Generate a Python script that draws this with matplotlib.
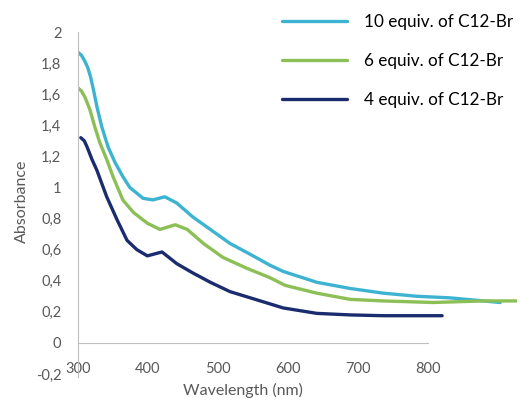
import numpy as np
import matplotlib
matplotlib.use("Agg")
import matplotlib.pyplot as plt

plt.rcParams['font.family'] = ['Lato', 'DejaVu Sans']

# absorbance spectra (wavelength nm, absorbance)
wl_10 = [300, 305, 310, 314, 318, 322, 327, 334, 343, 353, 364, 374, 393, 407, 424, 441,
         464, 489, 517, 546, 574, 593, 641, 689, 736, 784, 831, 903]
abs_10 = [1.87, 1.85, 1.81, 1.77, 1.71, 1.63, 1.52, 1.39, 1.26, 1.16, 1.07, 1.00, 0.93, 0.92,
          0.94, 0.90, 0.81, 0.73, 0.64, 0.57, 0.50, 0.46, 0.39, 0.35, 0.32, 0.30,
          0.29, 0.26]

wl_6 = [300, 305, 310, 317, 324, 331, 341, 350, 364, 379, 399, 417, 439, 456, 479,
        507, 541, 574, 596, 641, 689, 736, 807, 879, 927]
abs_6 = [1.64, 1.62, 1.58, 1.50, 1.39, 1.29, 1.18, 1.07, 0.92, 0.84, 0.77, 0.73, 0.76,
         0.73, 0.64, 0.55, 0.48, 0.42, 0.37, 0.32, 0.28, 0.27, 0.26, 0.27, 0.27]

wl_4 = [304, 309, 313, 320, 327, 341, 356, 370, 384, 399, 420, 441, 464, 489, 517,
        546, 593, 641, 689, 736, 820]
abs_4 = [1.32, 1.30, 1.26, 1.18, 1.11, 0.94, 0.79, 0.66, 0.60, 0.56, 0.585, 0.51, 0.45,
         0.39, 0.33, 0.29, 0.225, 0.19, 0.18, 0.175, 0.175]

labels = ["10 equiv. of C12-Br", "6 equiv. of C12-Br", "4 equiv. of C12-Br"]
colors = ["#3DB3D2", "#8CBF55", "#1B2C6E"]

x_ticks = [300, 400, 500, 600, 700, 800]
y_ticks = [-0.2, 0, 0.2, 0.4, 0.6, 0.8, 1, 1.2, 1.4, 1.6, 1.8, 2]

fig = plt.figure(figsize=(5.2, 4.01), dpi=100)
ax = fig.add_axes([78/520, 27/401, (517-78)/520, (374-32)/401])

for wl, a, c, lab in zip([wl_10, wl_6, wl_4], [abs_10, abs_6, abs_4], colors, labels):
    ax.plot(wl, a, color=c, lw=2.4, label=lab, solid_joinstyle='round', solid_capstyle='round')

ax.set_xlim(300, 927)
ax.set_ylim(-0.2, 2)

grey = "#595959"
for s in ['top', 'right']:
    ax.spines[s].set_visible(False)
ax.spines['bottom'].set_position(('data', 0))
ax.spines['bottom'].set_bounds(300, 800)
ax.spines['left'].set_bounds(-0.22, 2)
ax.spines['bottom'].set_color("#BFBFBF")
ax.spines['left'].set_color("#BFBFBF")

ax.set_xticks(x_ticks)
ax.set_xticklabels([str(v) for v in x_ticks])
ax.set_yticks(y_ticks)
ax.set_yticklabels([("%g" % v).replace('.', ',') for v in y_ticks])
ax.tick_params(axis='both', length=0, colors=grey, labelsize=10.5)
ax.tick_params(axis='y', pad=12)
ax.tick_params(axis='x', pad=14)

fig.text(243/520, 1 - 390/401, "Wavelength (nm)", color=grey, fontsize=11.5,
         ha='center', va='center')
fig.text(22/520, 1 - 201/401, "Absorbance", color=grey, fontsize=11.5,
         ha='center', va='center', rotation=90)

ax.legend(loc='upper left', bbox_to_anchor=(275/520, 1 - 7/401), bbox_transform=fig.transFigure,
          frameon=False, fontsize=12.3, handlelength=3.8, handletextpad=1.0,
          labelspacing=1.35, borderaxespad=0)

fig.savefig("out.png", dpi=100)
